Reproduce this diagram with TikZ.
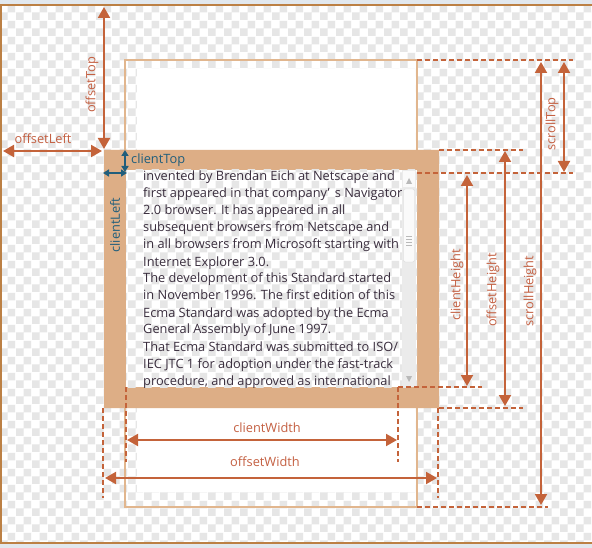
\documentclass[tikz,border=0pt]{standalone}
\usepackage{fontspec}
\setmainfont{Open Sans}
\usetikzlibrary{arrows.meta,patterns}
\definecolor{arr}{RGB}{196,99,58}
\definecolor{lbl}{RGB}{196,96,66}
\definecolor{tanfill}{RGB}{221,174,134}
\definecolor{tanline}{RGB}{225,182,142}
\definecolor{cteal}{RGB}{32,94,124}
\definecolor{txt}{RGB}{58,46,62}
\definecolor{framec}{RGB}{188,128,68}
\definecolor{strip}{RGB}{226,232,238}
\definecolor{chk}{RGB}{230,230,230}
\pgfdeclarepatternformonly{checks}{\pgfqpoint{0pt}{0pt}}{\pgfqpoint{16pt}{16pt}}{\pgfqpoint{16pt}{16pt}}{%
  \pgfpathrectangle{\pgfqpoint{0pt}{0pt}}{\pgfqpoint{8pt}{8pt}}%
  \pgfpathrectangle{\pgfqpoint{8pt}{8pt}}{\pgfqpoint{8pt}{8pt}}%
  \pgfusepath{fill}}
\tikzset{
  dim/.style={draw=arr, line width=2pt, arrows={Triangle[length=11pt,width=12pt]-Triangle[length=11pt,width=12pt]}},
  tdim/.style={draw=cteal, line width=1.6pt, arrows={Triangle[length=6pt,width=7pt]-Triangle[length=6pt,width=7pt]}},
  dline/.style={draw=arr, line width=1.8pt, dash pattern=on 5pt off 3pt},
  lab/.style={text=lbl, inner sep=0pt},
  tlab/.style={text=cteal, inner sep=0pt},
  vlab/.style={lab, rotate=90},
  txtline/.style={anchor=base west, inner sep=0pt, text=txt},
}
\begin{document}
\begin{tikzpicture}[x=1pt,y=-1pt,font=\fontsize{12.8}{17}\selectfont]
\useasboundingbox (0,0) rectangle (592,548);
% background and frame
\fill[white] (0,0) rectangle (592,548);
\fill[strip] (0,0) rectangle (592,4.5);
\fill[strip] (0,544) rectangle (592,548);
\fill[pattern=checks, pattern color=chk] (2,7) rectangle (592,541);
\draw[framec, line width=2pt] (592,5.5) -- (1,5.5) -- (1,542.5) -- (592,542.5);
% scrolled content box
\fill[white] (137,69) rectangle (415,492);
\draw[tanline, line width=1.5pt] (125,60) rectangle (417,507);
% element with border
\fill[tanfill, even odd rule] (104,150) rectangle (439,408) (126,170) rectangle (417,387);
\fill[white] (126,170) rectangle (417,387);
\fill[pattern=checks, pattern color=chk] (126,170) rectangle (417,387);
% scrollbar
\fill[gray!16] (402,170) rectangle (416,387);
\fill[gray!4] (403,171) rectangle (415,187);
\draw[gray!30, fill=gray!4, rounded corners=2pt] (403.5,189) rectangle (414.5,262);
\fill[gray!55] (406,184) -- (412,184) -- (409,178) -- cycle;
\fill[gray!55] (406,376) -- (412,376) -- (409,382) -- cycle;
\foreach \g in {236,239,242,245} \draw[gray!55, line width=0.8pt] (406,\g) -- (412,\g);
% text
\begin{scope}
\clip (126,170) rectangle (402,387);
\foreach \s [count=\i] in {%
  {invented by Brendan Eich at Netscape and},
  {first appeared in that company’\hspace{5pt}s Navigator},
  {2.0 browser. It has appeared in all},
  {subsequent browsers from Netscape and},
  {in all browsers from Microsoft starting with},
  {Internet Explorer 3.0.},
  {The development of this Standard started},
  {in November 1996. The first edition of this},
  {Ecma Standard was adopted by the Ecma},
  {General Assembly of June 1997.},
  {That Ecma Standard was submitted to ISO/},
  {IEC JTC 1 for adoption under the fast-track},
  {procedure, and approved as international}}
  \node[txtline, name=t\i] at (143,{181+17*(\i-1)}) {\s};
\end{scope}
% coordinates
\coordinate (ctTopR) at (417,60);   \coordinate (ctTopE) at (573,60);
\coordinate (elTopR) at (439,150);  \coordinate (elTopE) at (523,150);
\coordinate (clTopR) at (417,173);  \coordinate (clTopE) at (573,173);
\coordinate (clBotL) at (398,387);  \coordinate (clBotE) at (482,387);
\coordinate (elBotR) at (439,408);  \coordinate (elBotE) at (523,408);
\coordinate (ctBotR) at (417,507);  \coordinate (ctBotE) at (548,507);
\coordinate (elBL) at (103,408);    \coordinate (elBLe) at (103,498);
\coordinate (elBR) at (438,408);    \coordinate (elBRe) at (438,498);
\coordinate (clBL) at (126,387);    \coordinate (clBLe) at (126,462);
\coordinate (clBRe) at (398,462);
% dashed guide lines
\draw[dline] (ctTopR) -- (ctTopE);
\draw[dline] (elTopR) -- (elTopE);
\draw[dline] (clTopR) -- (clTopE);
\draw[dline] (clBotL) -- (clBotE);
\draw[dline] (elBotR) -- (elBotE);
\draw[dline] (ctBotR) -- (ctBotE);
\draw[dline] (elBL) -- (elBLe);
\draw[dline] (elBR) -- (elBRe);
\draw[dline] (clBL) -- (clBLe);
\draw[dline] (clBotL) -- (clBRe);
% arrow end points
\coordinate (otA) at (104,7);   \coordinate (otB) at (104,149);
\coordinate (olA) at (3,151);   \coordinate (olB) at (102,151);
\coordinate (ctA) at (125,150); \coordinate (ctB) at (125,172);
\coordinate (clA) at (103,173); \coordinate (clB) at (127,173);
\coordinate (chA) at (467,175); \coordinate (chB) at (467,386);
\coordinate (ohA) at (505,151); \coordinate (ohB) at (505,406);
\coordinate (shA) at (541,62);  \coordinate (shB) at (541,505);
\coordinate (stA) at (564,62);  \coordinate (stB) at (564,172);
\coordinate (cwA) at (127,440); \coordinate (cwB) at (397,440);
\coordinate (owA) at (105,478); \coordinate (owB) at (437,478);
% arrows
\draw[dim] (otA) -- (otB);
\draw[dim] (olA) -- (olB);
\draw[tdim] (ctA) -- (ctB);
\draw[tdim] (clA) -- (clB);
\draw[dim] (chA) -- (chB);
\draw[dim] (ohA) -- (ohB);
\draw[dim] (shA) -- (shB);
\draw[dim] (stA) -- (stB);
\draw[dim] (cwA) -- (cwB);
\draw[dim] (owA) -- (owB);
% labels
\node[vlab] (lOT) at (92,85) {offsetTop};
\node[lab] (lOL) at (43,139) {offsetLeft};
\node[tlab, anchor=west] (lCT) at (131,160) {clientTop};
\node[tlab, rotate=90] (lCL) at (115,225) {clientLeft};
\node[vlab] (lCH) at (457,285) {clientHeight};
\node[vlab] (lOH) at (493,290) {offsetHeight};
\node[vlab] (lSH) at (530,291) {scrollHeight};
\node[vlab] (lST) at (552,124) {scrollTop};
\node[lab] (lCW) at (267,428) {clientWidth};
\node[lab] (lOW) at (265,462) {offsetWidth};
\end{tikzpicture}
\end{document}
